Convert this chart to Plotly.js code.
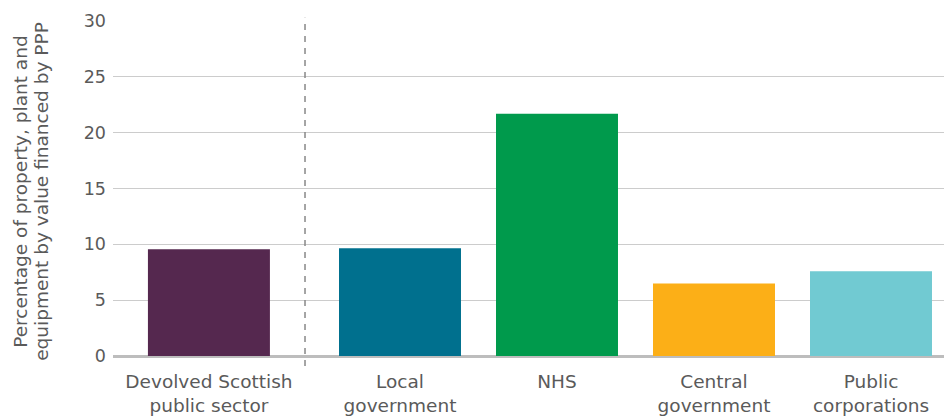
<!DOCTYPE html>
<html>
<head>
<meta charset="utf-8">
<script src="https://cdn.plot.ly/plotly-3.0.1.min.js"></script>
<style>html,body{margin:0;padding:0;background:#fff;}#chart{width:944px;height:417px;}</style>
</head>
<body>
<div id="chart"></div>
<script>
const categories = ["Devolved Scottish<br>public sector", "Local<br>government", "NHS", "Central<br>government", "Public<br>corporations"];
const values = [9.55, 9.65, 21.7, 6.5, 7.6];
const colors = ["#55284f", "#00708e", "#009a4c", "#fcaf17", "#71cad2"];
const yTicks = [0, 5, 10, 15, 20, 25, 30];
const yTitleLines = ["Percentage of property, plant and", "equipment by value financed by PPP"];

// layout: first bar separated from the rest by an extra gap
const extraGap = 0.217;
const xpos = categories.map((c, i) => i === 0 ? 0 : i + extraGap);
const dividerX = 0.612;

const trace = {
  type: "bar",
  x: xpos,
  y: values,
  width: 0.777,
  marker: {color: colors},
  hoverinfo: "skip"
};

const fam = "DejaVu Sans, sans-serif";
const grey = "#5a5a5a";

const plotLeft = 113, plotWidth = 831;
const titleX = [21, 42];

const layout = {
  width: 944, height: 417,
  margin: {l: 113, r: 0, t: 21, b: 61},
  paper_bgcolor: "#fff", plot_bgcolor: "#fff",
  showlegend: false,
  font: {family: fam, color: grey, size: 18},
  xaxis: {
    range: [-0.611, 4.682],
    tickvals: xpos,
    ticktext: categories,
    showgrid: false, zeroline: false, showline: false,
    ticks: "", ticklabelstandoff: 12,
    tickfont: {family: fam, color: grey, size: 18.5}, fixedrange: true
  },
  yaxis: {
    range: [0, 30],
    tickvals: yTicks,
    showgrid: true, gridcolor: "#cccccc", gridwidth: 1,
    zeroline: true, zerolinecolor: "#bdbdbd", zerolinewidth: 3,
    ticks: "", ticklabelstandoff: 6,
    tickfont: {family: fam, color: grey, size: 17.5},
    fixedrange: true
  },
  annotations: yTitleLines.map((t, i) => ({
    text: t, xref: "paper", yref: "paper",
    x: (titleX[i] - plotLeft) / plotWidth, y: 0.49,
    xanchor: "center", yanchor: "middle",
    textangle: -90, showarrow: false,
    font: {family: fam, color: grey, size: 18.5}
  })),
  shapes: [{
    type: "line", xref: "x", yref: "paper",
    x0: dividerX, x1: dividerX, y0: -0.03, y1: 1.01,
    line: {color: "#888", width: 1.5, dash: "6px,6px"}
  }]
};

Plotly.newPlot("chart", [trace], layout, {displayModeBar: false, staticPlot: true});
</script>
</body>
</html>
